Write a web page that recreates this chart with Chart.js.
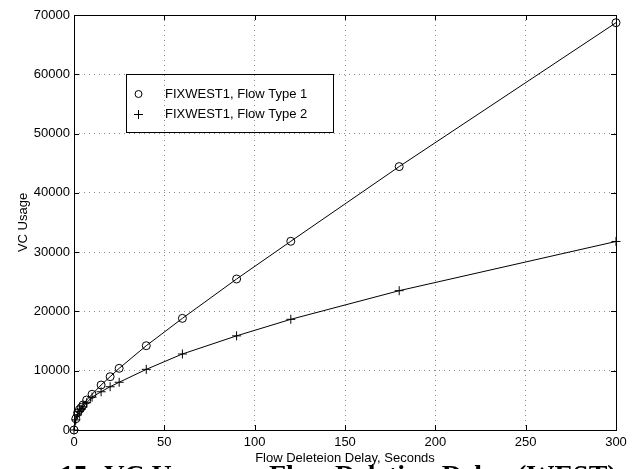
<!DOCTYPE html>
<html>
<head>
<meta charset="utf-8">
<script src="https://cdn.jsdelivr.net/npm/chart.js@4.4.0/dist/chart.umd.min.js"></script>
<style>
  html, body { margin: 0; padding: 0; background: #fff; }
</style>
</head>
<body>
<canvas id="vc-chart" width="641" height="469"></canvas>
<script>
// Flow deletion delay (seconds) and VC usage for the two flow types
const delays = [0, 1, 2, 3, 4, 5, 7, 10, 15, 20, 25, 40, 60, 90, 120, 180, 300];
const usageType1 = [0, 1900, 2900, 3450, 3800, 4220, 5060, 6020, 7590, 8990, 10400, 14220, 18830, 25470, 31830, 44430, 68700];
const usageType2 = [0, 1700, 2550, 3100, 3500, 3900, 4600, 5550, 6450, 7300, 8050, 10230, 12820, 15880, 18670, 23500, 31800];
const seriesNames = ["FIXWEST1, Flow Type 1", "FIXWEST1, Flow Type 2"];
const xTicks = [0, 50, 100, 150, 200, 250, 300];
const yTicks = [0, 10000, 20000, 30000, 40000, 50000, 60000, 70000];
const xTitle = "Flow Deleteion Delay, Seconds";
const yTitle = "VC Usage";
const caption = "Figure 15: VC Usage vs. Flow Deletion Delay (WEST)";

const sansFont = "'Liberation Sans', Arial, Helvetica, sans-serif";

// box round the plot with inward ticks, floating legend, figure caption
const framePlugin = {
    id: "frame",
    afterDraw(chart) {
        const ctx = chart.ctx;
        const a = chart.chartArea;
        const xs = chart.scales.x;
        const ys = chart.scales.y;
        ctx.save();
        ctx.strokeStyle = "#000";
        ctx.lineWidth = 1;
        ctx.strokeRect(a.left + 0.5, a.top + 0.5, a.right - a.left, a.bottom - a.top);

        const tl = 5;
        ctx.beginPath();
        xTicks.forEach((v) => {
            const px = Math.round(xs.getPixelForValue(v)) + 0.5;
            ctx.moveTo(px, a.bottom);
            ctx.lineTo(px, a.bottom - tl);
            ctx.moveTo(px, a.top);
            ctx.lineTo(px, a.top + tl);
        });
        yTicks.forEach((v) => {
            const py = Math.round(ys.getPixelForValue(v)) + 0.5;
            ctx.moveTo(a.left, py);
            ctx.lineTo(a.left + tl, py);
            ctx.moveTo(a.right, py);
            ctx.lineTo(a.right - tl, py);
        });
        ctx.stroke();

        // legend
        ctx.strokeRect(126.5, 74.5, 207, 58);
        ctx.font = "13px " + sansFont;
        ctx.fillStyle = "#000";
        ctx.textBaseline = "middle";
        ctx.textAlign = "left";
        const rows = [94, 114];
        rows.forEach((ry, i) => {
            ctx.beginPath();
            if (i === 0) {
                ctx.arc(138.5, ry, 3.5, 0, Math.PI * 2);
            } else {
                ctx.moveTo(134, ry + 0.5);
                ctx.lineTo(143, ry + 0.5);
                ctx.moveTo(138.5, ry - 4);
                ctx.lineTo(138.5, ry + 5);
            }
            ctx.stroke();
            ctx.fillText(chart.data.datasets[i].label, 165, ry);
        });

        // caption under the figure
        ctx.font = "bold 28px 'Liberation Serif', 'Times New Roman', serif";
        ctx.textBaseline = "alphabetic";
        ctx.fillText(caption, -26, 484);
        ctx.restore();
    },
};

const toPoints = (ys) => delays.map((d, i) => ({ x: d, y: ys[i] }));

new Chart(document.getElementById("vc-chart"), {
    type: "line",
    data: {
        datasets: [
            {
                label: seriesNames[0],
                data: toPoints(usageType1),
                borderColor: "#000",
                borderWidth: 1,
                pointStyle: "circle",
                pointRadius: 4,
                pointBorderColor: "#000",
                pointBackgroundColor: "rgba(0,0,0,0)",
                pointBorderWidth: 1,
                tension: 0,
                clip: false,
            },
            {
                label: seriesNames[1],
                data: toPoints(usageType2),
                borderColor: "#000",
                borderWidth: 1,
                pointStyle: "cross",
                pointRadius: 4.5,
                pointBorderColor: "#000",
                pointBorderWidth: 1,
                tension: 0,
                clip: false,
            },
        ],
    },
    options: {
        responsive: false,
        animation: false,
        devicePixelRatio: 1,
        layout: {
            padding: { top: 15, right: 25, left: 0, bottom: 0 },
        },
        plugins: {
            legend: { display: false },
            tooltip: { enabled: false },
        },
        scales: {
            x: {
                type: "linear",
                min: 0,
                max: 300,
                afterFit: (scale) => { scale.height = 39; },
                afterBuildTicks: (scale) => { scale.ticks = xTicks.map((v) => ({ value: v })); },
                ticks: {
                    color: "#000",
                    padding: 5,
                    maxRotation: 0,
                    font: { family: sansFont, size: 13 },
                    callback: (v) => String(v),
                },
                grid: { color: "#8a8a8a", drawTicks: false },
                border: { display: false, dash: [1, 4] },
                title: {
                    display: true,
                    text: xTitle,
                    color: "#000",
                    font: { family: sansFont, size: 13 },
                    padding: { top: 0, bottom: 3 },
                },
            },
            y: {
                min: 0,
                max: 70000,
                afterFit: (scale) => { scale.width = 74; },
                afterBuildTicks: (scale) => { scale.ticks = yTicks.map((v) => ({ value: v })); },
                ticks: {
                    color: "#000",
                    padding: 4,
                    font: { family: sansFont, size: 13 },
                    callback: (v) => String(v),
                },
                grid: { color: "#8a8a8a", drawTicks: false },
                border: { display: false, dash: [1, 4] },
                title: {
                    display: true,
                    text: yTitle,
                    color: "#000",
                    font: { family: sansFont, size: 13 },
                    padding: { top: 16, bottom: 0 },
                },
            },
        },
    },
    plugins: [framePlugin],
});
</script>
</body>
</html>
